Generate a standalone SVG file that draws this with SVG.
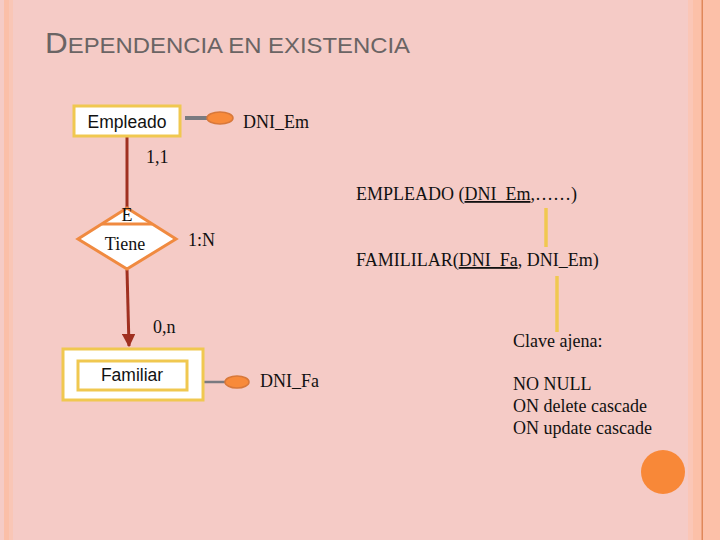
<svg xmlns="http://www.w3.org/2000/svg" width="720" height="540" viewBox="0 0 720 540">
<style>
.serif{font-family:"Liberation Serif","Times New Roman",serif;font-size:18px;fill:#111}
.sans{font-family:"Liberation Sans",Arial,sans-serif;font-size:17.5px;fill:#111}
.ent{fill:#fff;stroke:#f0c850;stroke-width:3}
.attr{fill:#f88a3a;stroke:#d8783a;stroke-width:1.5}
.yl{stroke:#f0c850;stroke-width:3.5}
</style>
<defs>
<marker id="ah" viewBox="0 0 10 10" refX="9" refY="5" markerWidth="4.5" markerHeight="4.5" orient="auto" markerUnits="strokeWidth">
<path d="M0,0 L10,5 L0,10 Z" fill="#a03020"/>
</marker>
</defs>
<rect width="720" height="540" fill="#f5cbc6"/>
<rect x="4" y="0" width="5" height="540" fill="#fbbfa8"/>
<rect x="9" y="0" width="4" height="540" fill="#f9c6b6"/>
<rect x="688" y="0" width="5" height="540" fill="#fbc6b6"/>
<rect x="693" y="0" width="27" height="540" fill="#fcc0a8"/>
<rect x="701.5" y="0" width="1.5" height="540" fill="#e0885a"/>
<text x="45" y="53" font-family="'Liberation Sans',Arial,sans-serif" fill="#6a6464" font-size="22" textLength="365" lengthAdjust="spacingAndGlyphs"><tspan font-size="29">D</tspan>EPENDENCIA EN EXISTENCIA</text>
<g id="connectors">
<line x1="185" y1="118" x2="208" y2="118" stroke="#7a7a80" stroke-width="4"/>
<line x1="127" y1="137" x2="127" y2="208" stroke="#a03020" stroke-width="3"/>
<line x1="127" y1="270" x2="129" y2="346" stroke="#a03020" stroke-width="3" marker-end="url(#ah)"/>
<line x1="203" y1="382" x2="226" y2="382" stroke="#7a7a80" stroke-width="2.5"/>
<line class="yl" x1="546" y1="208" x2="546" y2="247"/>
<line class="yl" x1="557" y1="276" x2="557" y2="332"/>
</g>
<g id="empleado">
<rect class="ent" x="74" y="106" width="106" height="30"/>
<text class="sans" x="127" y="128" text-anchor="middle">Empleado</text>
</g>
<g id="dni_em">
<ellipse class="attr" cx="220" cy="118" rx="13" ry="6"/>
<text class="serif" x="243" y="128">DNI_Em</text>
</g>
<g id="tiene">
<polygon points="127,208 176,239 127,269 78,239" fill="#fff" stroke="#f08a40" stroke-width="3"/>
<line x1="102" y1="224" x2="152" y2="224" stroke="#f08a40" stroke-width="3"/>
<text class="serif" x="127" y="221" text-anchor="middle">E</text>
<text class="serif" x="125" y="250" text-anchor="middle">Tiene</text>
</g>
<g id="familiar">
<rect class="ent" x="63" y="349" width="140" height="51"/>
<rect class="ent" x="78" y="361" width="109" height="29"/>
<text class="sans" x="132" y="381" text-anchor="middle">Familiar</text>
</g>
<g id="dni_fa">
<ellipse class="attr" cx="237" cy="382" rx="12" ry="6"/>
<text class="serif" x="260" y="387">DNI_Fa</text>
</g>
<g id="labels">
<text class="serif" x="146" y="163">1,1</text>
<text class="serif" x="188" y="246">1:N</text>
<text class="serif" x="153" y="333">0,n</text>
<text class="serif" x="356" y="200">EMPLEADO (<tspan text-decoration="underline">DNI_Em</tspan>,……)</text>
<text class="serif" x="356" y="266">FAMILILAR(<tspan text-decoration="underline">DNI_Fa</tspan>, DNI_Em)</text>
<text class="serif" x="513" y="347">Clave ajena:</text>
<text class="serif" x="513" y="390">NO NULL</text>
<text class="serif" x="513" y="412">ON delete cascade</text>
<text class="serif" x="513" y="434">ON update cascade</text>
</g>
<circle cx="663" cy="472" r="22" fill="#f88838"/>
</svg>
